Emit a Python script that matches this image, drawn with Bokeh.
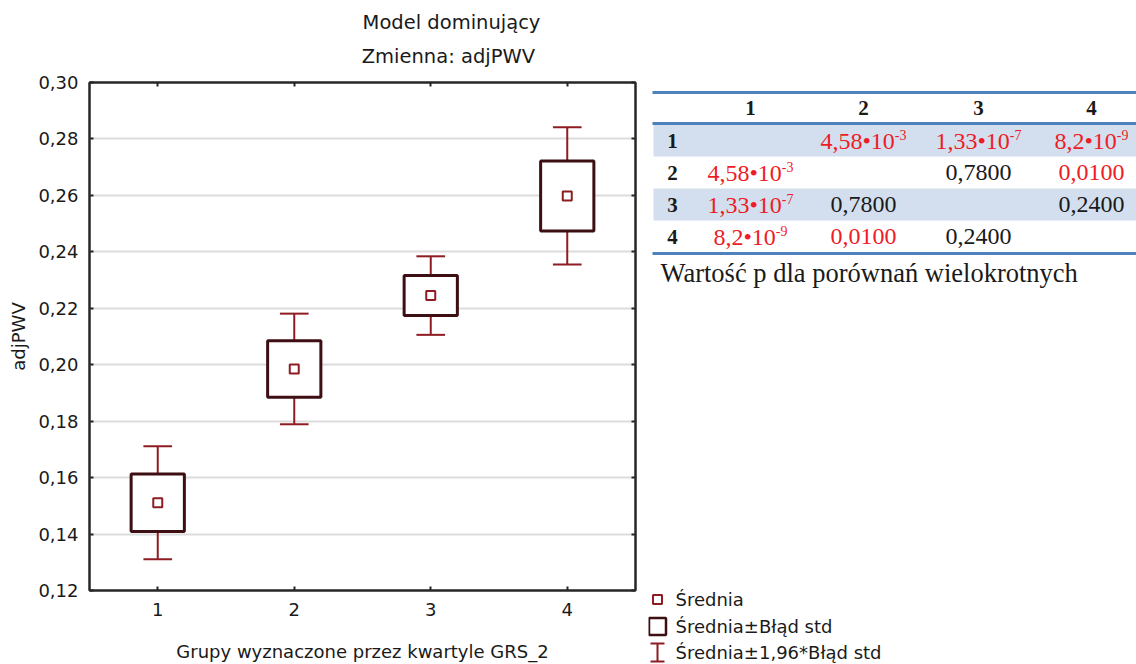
from bokeh.plotting import figure
from bokeh.layouts import column, row
from bokeh.models import Range1d, FixedTicker, CustomJSTickFormatter, LinearAxis, ColumnDataSource
from bokeh.core.properties import value
from bokeh.embed import file_html
from bokeh.resources import INLINE

# ---------------- data ----------------
groups = [1, 2, 3, 4]
means = [0.1511, 0.1985, 0.2245, 0.2598]
std_err = [0.0102, 0.0100, 0.0071, 0.0124]
y_ticks = [0.12, 0.14, 0.16, 0.18, 0.20, 0.22, 0.24, 0.26, 0.28, 0.30]
y_tick_labels = ["0,12", "0,14", "0,16", "0,18", "0,20", "0,22", "0,24", "0,26", "0,28", "0,30"]

title_lines = ["Model dominujący", "Zmienna:  adjPWV"]
x_title = "Grupy wyznaczone przez kwartyle GRS_2"
y_title = "adjPWV"

table_cols = ["1", "2", "3", "4"]
table_rows = ["1", "2", "3", "4"]
p_values = [[None, 4.58e-3, 1.33e-7, 8.2e-9],
            [4.58e-3, None, 0.78, 0.01],
            [1.33e-7, 0.78, None, 0.24],
            [8.2e-9, 0.01, 0.24, None]]
p_text = [["", "4,58•10", "1,33•10", "8,2•10"],
          ["4,58•10", "", "0,7800", "0,0100"],
          ["1,33•10", "0,7800", "", "0,2400"],
          ["8,2•10", "0,0100", "0,2400", ""]]
p_exp = [["", "-3", "-7", "-9"],
         ["-3", "", "", ""],
         ["-7", "", "", ""],
         ["-9", "", "", ""]]
table_caption = "Wartość p dla porównań wielokrotnych"
legend_labels = ["Średnia", "Średnia±Błąd std", "Średnia±1,96*Błąd std"]

# ---------------- styles ----------------
SANS_NAME = "DejaVu Sans"
SANS = value(SANS_NAME)
SERIF = value("Liberation Serif")
TXT = "#1a1a1a"
FRAME = "#262626"
BOX = "#3d0f13"
WHISK = "#8e1c22"
BLUE = "#4f81bd"
SHADE = "#d3dfee"
RED = "#ee1c25"
FS = "18px"

W_ALL, H_TOP = 1136, 72
W_L, H_B = 648, 592
W_R = W_ALL - W_L

# ---------------- title strip ----------------
t = figure(width=W_ALL, height=H_TOP, x_range=Range1d(0, W_ALL), y_range=Range1d(H_TOP, 0),
           output_backend="svg", toolbar_location=None, x_axis_type=None, y_axis_type=None,
           min_border=0, frame_align=False)
t.outline_line_color = None
t.text(x=[451, 451], y=[22, 56], text=title_lines, text_font=SANS, text_font_size="19.5px",
       text_align="center", text_baseline="middle", text_color=TXT)

# ---------------- main chart ----------------
p = figure(width=W_L, height=H_B, x_range=Range1d(0.5, 4.5), y_range=Range1d(0.12, 0.30),
           output_backend="svg", toolbar_location=None, frame_align=False,
           min_border_left=89, min_border_right=13, min_border_top=10, min_border_bottom=72)
p.outline_line_color = FRAME
p.outline_line_width = 2
p.xgrid.visible = False
p.ygrid.ticker = FixedTicker(ticks=y_ticks)
p.ygrid.grid_line_color = "#dcdcdc"
p.ygrid.grid_line_width = 2

p.xaxis.ticker = FixedTicker(ticks=groups)
p.yaxis.ticker = FixedTicker(ticks=y_ticks)
p.yaxis.formatter = CustomJSTickFormatter(
    args=dict(tv=y_ticks, tl=y_tick_labels),
    code="const i = tv.findIndex(v => Math.abs(v - tick) < 1e-9); return i >= 0 ? tl[i] : '';")
for ax in [p.xaxis[0], p.yaxis[0]]:
    ax.axis_line_width = 2
    ax.axis_line_color = FRAME
    ax.major_tick_in = 4
    ax.major_tick_out = 0
    ax.major_tick_line_width = 2
    ax.major_tick_line_color = FRAME
    ax.minor_tick_in = 0
    ax.minor_tick_out = 0
    ax.major_label_text_font = SANS_NAME
    ax.major_label_text_font_size = FS
    ax.major_label_text_color = TXT
    ax.axis_label_text_font = SANS_NAME
    ax.axis_label_text_font_size = FS
    ax.axis_label_text_font_style = "normal"
    ax.axis_label_text_color = TXT
p.xaxis.axis_label = x_title
p.xaxis.major_label_standoff = 12
p.xaxis.axis_label_standoff = 22
p.yaxis.axis_label = y_title
p.yaxis.major_label_standoff = 11
p.yaxis.axis_label_standoff = 6

for loc, tk in (("above", groups), ("right", y_ticks)):
    ax = LinearAxis(ticker=FixedTicker(ticks=tk), formatter=CustomJSTickFormatter(code="return '';"),
                    major_label_text_font_size="0px", major_label_standoff=0,
                    major_tick_in=4, major_tick_out=0, minor_tick_in=0, minor_tick_out=0,
                    major_tick_line_width=2, major_tick_line_color=FRAME,
                    axis_line_width=2, axis_line_color=FRAME)
    p.add_layout(ax, loc)

box_half = 0.195
cap_half = 0.105
src = ColumnDataSource(dict(
    x=groups, mean=means,
    lo1=[m - s for m, s in zip(means, std_err)], hi1=[m + s for m, s in zip(means, std_err)],
    lo2=[m - 1.96 * s for m, s in zip(means, std_err)], hi2=[m + 1.96 * s for m, s in zip(means, std_err)],
    xl=[g - box_half for g in groups], xr=[g + box_half for g in groups],
    cl=[g - cap_half for g in groups], cr=[g + cap_half for g in groups],
))
p.segment(x0="x", y0="lo2", x1="x", y1="hi2", source=src, line_color=WHISK, line_width=2)
p.segment(x0="cl", y0="lo2", x1="cr", y1="lo2", source=src, line_color=WHISK, line_width=2)
p.segment(x0="cl", y0="hi2", x1="cr", y1="hi2", source=src, line_color=WHISK, line_width=2)
p.quad(left="xl", right="xr", bottom="lo1", top="hi1", source=src, fill_color="white",
       line_color=BOX, line_width=3)
p.scatter(x="x", y="mean", source=src, marker="square", size=9, fill_color="white",
          line_color=WHISK, line_width=2)

# ---------------- table + legend ----------------
r = figure(width=W_R, height=H_B, x_range=Range1d(0, W_R), y_range=Range1d(H_B, 0),
           output_backend="svg", toolbar_location=None, x_axis_type=None, y_axis_type=None,
           min_border=0, frame_align=False)
r.outline_line_color = None

col_x = [102, 215, 330, 443]
row_top = [52, 84, 116, 148, 180]
row_y = [(row_top[i] + row_top[i + 1]) / 2 for i in range(4)]

# shaded rows (1 and 3)
r.quad(left=[5, 5], right=[W_R, W_R], top=[row_top[0], row_top[2]], bottom=[row_top[1], row_top[3]],
       fill_color=SHADE, line_color=None)
# rules
r.segment(x0=[4, 4, 4], x1=[W_R, W_R, W_R], y0=[20, 51, 181], y1=[20, 51, 181],
          line_color=BLUE, line_width=3)

r.text(x=col_x, y=[35] * 4, text=table_cols, text_font=SERIF, text_font_size="21px",
       text_font_style="bold", text_align="center", text_baseline="middle", text_color=TXT)
r.text(x=[24] * 4, y=row_y, text=table_rows, text_font=SERIF, text_font_size="21px",
       text_font_style="bold", text_align="center", text_baseline="middle", text_color=TXT)

CW = {",": 0.25, "•": 0.35, "-": 0.333}


def serif_w(s, size):
    return sum(CW.get(c, 0.5) for c in s) * size


BASE_FS, EXP_FS = 24, 14
plain = dict(x=[], y=[], text=[], color=[])
base = dict(x=[], y=[], text=[], color=[])
expo = dict(x=[], y=[], text=[], color=[])
for i in range(4):
    for j in range(4):
        pv = p_values[i][j]
        if pv is None:
            continue
        color = RED if pv < 0.05 else TXT
        if p_exp[i][j]:
            bw = serif_w(p_text[i][j], BASE_FS)
            ew = serif_w(p_exp[i][j], EXP_FS)
            anchor = col_x[j] - (bw + ew) / 2 + bw
            base["x"].append(anchor); base["y"].append(row_y[i])
            base["text"].append(p_text[i][j]); base["color"].append(color)
            expo["x"].append(anchor); expo["y"].append(row_y[i] - 6)
            expo["text"].append(p_exp[i][j]); expo["color"].append(color)
        else:
            plain["x"].append(col_x[j]); plain["y"].append(row_y[i])
            plain["text"].append(p_text[i][j]); plain["color"].append(color)

r.text(x="x", y="y", text="text", text_color="color", source=ColumnDataSource(plain),
       text_font=SERIF, text_font_size=f"{BASE_FS}px", text_align="center", text_baseline="middle")
r.text(x="x", y="y", text="text", text_color="color", source=ColumnDataSource(base),
       text_font=SERIF, text_font_size=f"{BASE_FS}px", text_align="right", text_baseline="middle")
r.text(x="x", y="y", text="text", text_color="color", source=ColumnDataSource(expo),
       text_font=SERIF, text_font_size=f"{EXP_FS}px", text_align="left", text_baseline="middle")

r.text(x=[12], y=[200], text=[table_caption], text_font=SERIF, text_font_size="26.5px",
       text_align="left", text_baseline="middle", text_color=TXT)

# legend
leg_y = [527, 554, 580]
r.scatter(x=[9], y=[leg_y[0]], marker="square", size=9, fill_color="white", line_color=WHISK, line_width=2)
r.scatter(x=[9], y=[leg_y[1]], marker="square", size=17, fill_color="white", line_color=BOX, line_width=2.5)
r.segment(x0=[9, 2, 2], x1=[9, 16, 16], y0=[leg_y[2] - 9, leg_y[2] - 9, leg_y[2] + 9],
          y1=[leg_y[2] + 9, leg_y[2] - 9, leg_y[2] + 9], line_color=WHISK, line_width=2)
r.text(x=[27] * 3, y=leg_y, text=legend_labels, text_font=SANS, text_font_size=FS,
       text_align="left", text_baseline="middle", text_color=TXT)

layout = column(t, row(p, r))
open("out.html", "w").write(file_html(layout, INLINE))
